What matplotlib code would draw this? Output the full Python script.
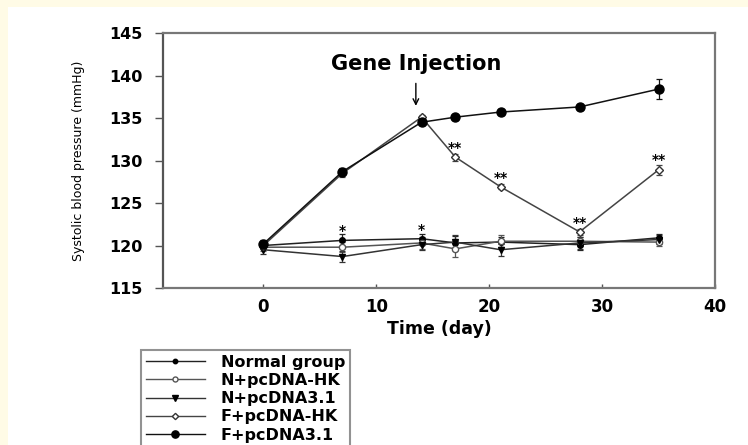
import matplotlib
matplotlib.use("Agg")
import matplotlib.pyplot as plt
from matplotlib.patches import Rectangle
from matplotlib.lines import Line2D

plt.rcParams['font.family'] = ['DejaVu Sans']

days = [0, 7, 14, 17, 21, 28, 35]
labels = ["Normal group", "N+pcDNA-HK", "N+pcDNA3.1", "F+pcDNA-HK", "F+pcDNA3.1"]
normal = [120.0, 120.6, 120.8, 120.3, 120.4, 120.1, 120.9]
n_hk = [119.8, 119.8, 120.3, 119.6, 120.5, 120.5, 120.4]
n_31 = [119.5, 118.7, 120.1, 120.4, 119.5, 120.3, 120.7]
f_hk = [120.0, 128.5, 135.1, 130.4, 126.9, 121.6, 128.9]
f_31 = [120.2, 128.7, 134.5, 135.1, 135.7, 136.3, 138.4]
normal_err = [0.4, 0.7, 0.6, 0.8, 0.6, 0.6, 0.5]
n_hk_err = [0.4, 0.6, 0.7, 0.9, 0.7, 0.5, 0.5]
n_31_err = [0.5, 0.6, 0.6, 0.8, 0.7, 0.7, 0.5]
f_hk_err = [0.4, 0.4, 0.3, 0.4, 0.3, 0.4, 0.6]
f_31_err = [0.4, 0.4, 0.3, 0.3, 0.4, 0.3, 1.2]

star_x = [7, 14, 17, 21, 28, 35]
star_y = [121.7, 121.8, 131.5, 128.0, 122.6, 130.1]
star_text = ["*", "*", "**", "**", "**", "**"]

fig = plt.figure(figsize=(7.48, 4.45), dpi=100)
fig.patch.set_facecolor('white')
cream = '#fffbe6'
fig.patches.append(Rectangle((0, 1 - 7 / 445), 1, 7 / 445, transform=fig.transFigure,
                             facecolor=cream, edgecolor='none', zorder=0))
fig.patches.append(Rectangle((0, 0), 8 / 748, 1, transform=fig.transFigure,
                             facecolor=cream, edgecolor='none', zorder=0))

ax = fig.add_axes([163 / 748, 1 - 288 / 445, (715 - 163) / 748, (288 - 33) / 445])

series = [normal, n_hk, n_31, f_hk, f_31]
errs = [normal_err, n_hk_err, n_31_err, f_hk_err, f_31_err]
styles = [
    dict(marker='o', ms=4, mfc='black', mec='black'),
    dict(marker='o', ms=4.5, mfc='white', mec='#555555'),
    dict(marker='v', ms=5, mfc='black', mec='black'),
    dict(marker='D', ms=4, mfc='white', mec='#333333'),
    dict(marker='o', ms=6.5, mfc='black', mec='black'),
]
colors = ['#222222', '#555555', '#333333', '#444444', '#111111']
handles = []
for vals, err, st, lab, c in zip(series, errs, styles, labels, colors):
    ax.errorbar(days, vals, yerr=err, color=c, lw=1.1, elinewidth=0.9,
                capsize=2.5, capthick=0.9, **st)
    leg_st = dict(st)
    leg_st['ms'] = st['ms'] * 0.8
    handles.append(Line2D([], [], color=c, lw=1.0, label=lab, **leg_st))

for x, y, t in zip(star_x, star_y, star_text):
    ax.text(x, y, t, ha='center', va='center', fontsize=10, fontweight='bold')

ax.text(13.5, 141.3, "Gene Injection", ha='center', va='center',
        fontsize=15, fontweight='bold')
ax.annotate("", xy=(13.5, 136.1), xytext=(13.5, 139.4),
            arrowprops=dict(arrowstyle='->', color='black', lw=1.0))

ax.set_xlim(-8.9, 40)
ax.set_ylim(115, 145)
ax.set_xticks([0, 10, 20, 30, 40])
ax.set_yticks([115, 120, 125, 130, 135, 140, 145])
ax.tick_params(axis='y', direction='out', length=6, width=1, labelsize=11.5, pad=9, color='#555555')
ax.tick_params(axis='x', direction='in', length=3, width=1, labelsize=12, pad=7, color='#555555')
for lbl in ax.get_xticklabels() + ax.get_yticklabels():
    lbl.set_fontweight('bold')
for s in ax.spines.values():
    s.set_color('#777777')
    s.set_linewidth(1.6)
ax.spines['left'].set_color('#555555')

ax.set_xlabel("Time (day)", fontsize=12.5, fontweight='bold', labelpad=3)
ax.set_ylabel("Systolic blood pressure (mmHg)", fontsize=9, labelpad=17)

leg = fig.legend(handles=handles, loc='upper left', bbox_to_anchor=(141 / 748, 1 - 350 / 445),
                 borderaxespad=0, fontsize=11.5, handlelength=3.7, handletextpad=1.0,
                 labelspacing=0.2, borderpad=0.3, fancybox=False, frameon=True)
leg.get_frame().set_edgecolor('#777777')
leg.get_frame().set_linewidth(1.5)
for t in leg.get_texts():
    t.set_fontweight('bold')

fig.savefig("out.png", dpi=100)
